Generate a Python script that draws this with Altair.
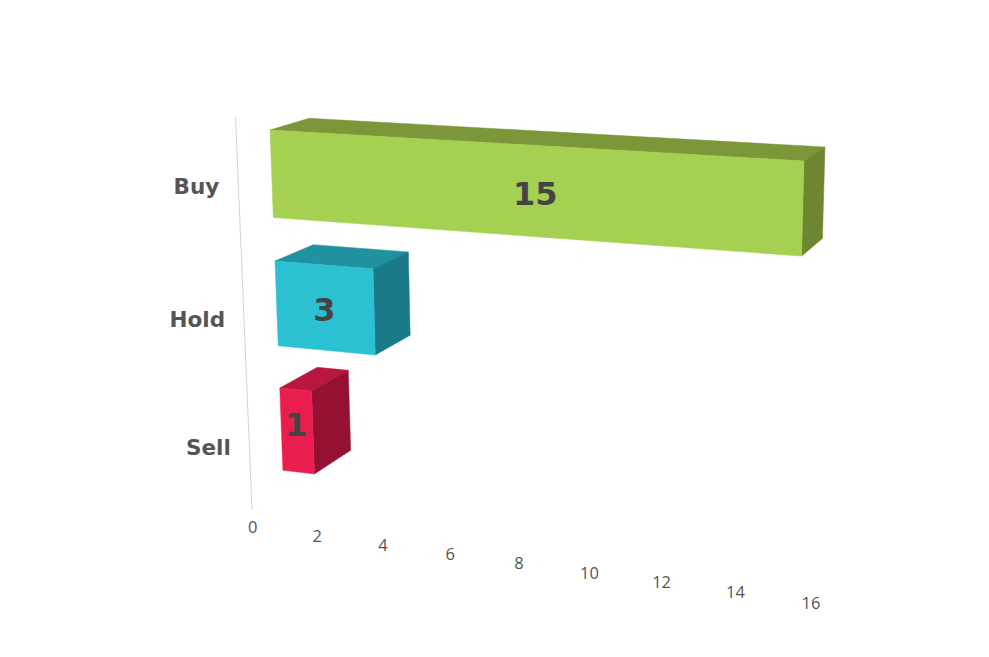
import altair as alt
import pandas as pd

categories = ["Buy", "Hold", "Sell"]
values = [15, 3, 1]
axis_ticks = [0, 2, 4, 6, 8, 10, 12, 14, 16]

FRONT = ["#a5d051", "#2bc0d2", "#e91e4f"]
TOP = ["#7b9739", "#20919f", "#b81740"]
SIDE = ["#6d8632", "#1b7a87", "#941131"]
BAR_THICK = 0.665
AXIS_D = -0.8
LABEL_D = -1.2
VALUE_NUDGE = [(-2, 4), (-1, 3.5), (-1, -5)]


def project(v, c, d):
    """Perspective camera: value v, category row c, depth d -> page position."""
    w = 1 - 0.00557 * v + 0.01575 * c + 0.0385 * d
    x = 270 + 31.12 * v + 9.3 * c + 51 * d
    y = 130 + 1.17 * v + 135.1 * c - 7.16 * d
    return x / w, y / w


def face(name, color, corners):
    pts = corners + corners[:1]
    rows = []
    for i, (v, c, d) in enumerate(pts):
        x, y = project(v, c, d)
        rows.append({"face": name, "color": color, "i": i, "x": x, "y": y})
    return rows


rows = []
text_rows = []
for r, (cat, val) in enumerate(zip(categories, values)):
    c0, c1 = r, r + BAR_THICK
    rows += face(f"{cat}-top", TOP[r], [(0, c0, 0), (val, c0, 0), (val, c0, 1), (0, c0, 1)])
    rows += face(f"{cat}-side", SIDE[r], [(val, c0, 0), (val, c1, 0), (val, c1, 1), (val, c0, 1)])
    rows += face(f"{cat}-front", FRONT[r], [(0, c0, 0), (val, c0, 0), (val, c1, 0), (0, c1, 0)])
    corners = [project(v, c, 0) for v, c in [(0, c0), (val, c0), (val, c1), (0, c1)]]
    text_rows.append({
        "label": str(val),
        "x": sum(p[0] for p in corners) / 4 + VALUE_NUDGE[r][0],
        "y": sum(p[1] for p in corners) / 4 + VALUE_NUDGE[r][1],
    })

axis_rows = []
for i, c in enumerate([-0.17, 2.82]):
    x, y = project(0, c, AXIS_D)
    axis_rows.append({"i": i, "x": x, "y": y})

tick_rows = []
for t in axis_ticks:
    x, y = project(t, 2.965 + 0.00225 * t, AXIS_D)
    tick_rows.append({"label": str(t), "x": x - 0.2 * t, "y": y})

cat_rows = []
for r, cat in enumerate(categories):
    x, y = project(0, 0.3 + 0.9775 * r, LABEL_D)
    cat_rows.append({"label": cat, "x": x - 1.5, "y": y + 1})

X = alt.X("x:Q", scale=alt.Scale(domain=[8, 981]), axis=None)
Y = alt.Y("y:Q", scale=alt.Scale(domain=[649, 8]), axis=None)

axis_line = alt.Chart(pd.DataFrame(axis_rows)).mark_line(color="#d4d4d4", strokeWidth=1).encode(
    x=X, y=Y, order="i:Q"
)

faces = []
for name in pd.DataFrame(rows)["face"].unique():
    sub = pd.DataFrame([q for q in rows if q["face"] == name])
    col = sub["color"].iloc[0]
    faces.append(
        alt.Chart(sub).mark_line(fill=col, color=col, strokeWidth=0.5, interpolate="linear").encode(
            x=X, y=Y, order="i:Q"
        )
    )

ticks = alt.Chart(pd.DataFrame(tick_rows)).mark_text(
    font="Open Sans", fontSize=16.5, color="#555555"
).encode(x=X, y=Y, text="label:N")

cats = alt.Chart(pd.DataFrame(cat_rows)).mark_text(
    font="DejaVu Sans", fontWeight="bold", fontSize=21.5, color="#555555", align="right"
).encode(x=X, y=Y, text="label:N")

vals = alt.Chart(pd.DataFrame(text_rows)).mark_text(
    font="DejaVu Sans", fontWeight="bold", fontSize=32, color="#444444"
).encode(x=X, y=Y, text="label:N")

chart = alt.layer(axis_line, *faces, ticks, cats, vals).properties(
    width=973, height=641, padding=0, autosize=alt.AutoSizeParams(type="none"), background="white"
).configure_view(stroke=None)

chart.save("out.html", embed_options={"renderer": "svg", "actions": False})
